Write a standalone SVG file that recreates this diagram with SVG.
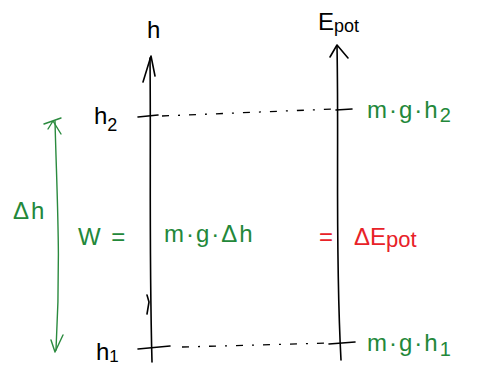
<svg xmlns="http://www.w3.org/2000/svg" width="478" height="371" viewBox="0 0 478 371">
<style>
.ax{fill:none;stroke:#000;stroke-width:1.6;stroke-linecap:round;stroke-linejoin:round}
.dash{fill:none;stroke:#000;stroke-width:1.3;stroke-dasharray:7 9 2 9}
.gl{fill:none;stroke:#2a8a3e;stroke-width:1.4;stroke-linecap:round;stroke-linejoin:round}
text{font-family:"Liberation Sans","DejaVu Sans",sans-serif}
.k{fill:#000;font-size:24px}
.g{fill:#23883a;font-size:24px;letter-spacing:2px}
.r{fill:#e82228;font-size:24px}
</style>
<rect width="478" height="371" fill="#fff"/>
<g id="connectors">
<path class="ax" d="M150,58 C151,150 149,250 152,362"/>
<path class="ax" d="M143,82 L151,56 L155,76"/>
<path class="ax" d="M147,295 L149,302 L147,314"/>
<path class="ax" d="M337,46 C339,150 335,250 341,360"/>
<path class="ax" d="M330,57 L337,45 L348,58"/>
<path class="dash" d="M162,116 L334,109"/>
<path class="dash" d="M182,347 L330,343"/>
<path class="gl" d="M55,121 C57,200 61,260 56,350"/>
<path class="gl" d="M48,129 L53,121 L61,134 M44,124 L61,118"/>
<path class="gl" d="M51,340 L55,352 L63,335"/>
</g>
<g id="h-axis">
<text class="k" x="147" y="38">h</text>
</g>
<g id="epot-axis">
<text class="k" x="318" y="30" font-size="24">E<tspan font-size="18" dy="2">pot</tspan></text>
</g>
<g id="h2">
<path class="ax" d="M138,117 L158,115"/>
<text class="k" x="94" y="124" font-size="26">h<tspan font-size="18" dy="7">2</tspan></text>
</g>
<g id="h1">
<path class="ax" d="M138,349 L170,346"/>
<text class="k" x="96" y="360" font-size="24">h<tspan font-size="17" dy="2">1</tspan></text>
</g>
<g id="mgh2">
<path class="ax" d="M336,110 L352,109"/>
<text class="g" x="367" y="118" font-size="26">m·g·h<tspan font-size="20" dy="4">2</tspan></text>
</g>
<g id="mgh1">
<path class="ax" d="M329,344 L355,342"/>
<text class="g" x="367" y="351" font-size="26">m·g·h<tspan font-size="20" dy="5">1</tspan></text>
</g>
<g id="delta-h">
<text class="g" x="13" y="219" font-size="22" letter-spacing="1">Δh</text>
</g>
<g id="equation">
<text class="g" x="78" y="245" font-size="30">W =</text>
<text class="g" x="164" y="242" font-size="27">m·g·Δh</text>
<text class="r" x="319" y="245">=</text>
<text class="r" x="354" y="245" font-size="27">ΔE<tspan font-size="22" dy="2">pot</tspan></text>
</g>
</svg>
